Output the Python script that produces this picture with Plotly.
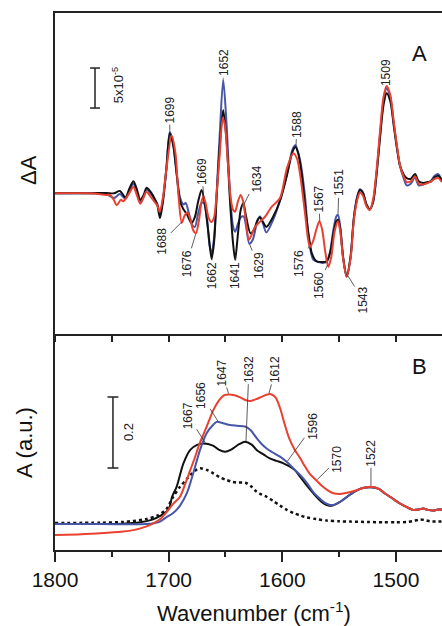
import numpy as np
import plotly.graph_objects as go

# ---------------- data: panel A (difference spectra, units of 1e-5) ----------------
WN_A_BLACK = [1800, 1770, 1755, 1748, 1743, 1738, 1734.5, 1731, 1728, 1725, 1722, 1719.4, 1716, 1713, 1710,
              1707.6, 1705, 1702, 1699, 1696, 1693, 1690, 1687, 1684, 1680, 1677, 1674, 1671, 1668, 1665,
              1662.2, 1660, 1657.8, 1655, 1652, 1649, 1646, 1643.5, 1641.5, 1639, 1636.5, 1634.3, 1632, 1628,
              1625, 1622, 1619.6, 1617, 1614, 1608, 1602, 1596.2, 1591, 1588.5, 1586, 1583, 1580, 1577, 1574,
              1570, 1565, 1561, 1558, 1555, 1552.5, 1551, 1549, 1546.5, 1543.4, 1540, 1537, 1534, 1531.7, 1529,
              1526, 1523, 1520, 1517, 1514, 1511, 1508.2, 1505, 1502, 1499, 1496.5, 1493, 1490.6, 1487, 1483.3,
              1480, 1476, 1472, 1469, 1466, 1462.8, 1459.5]
DA_BLACK = [0, 0, 0.05, 0, 0.3, -0.5, 0.6, 1.5, 0.5, -0.8, -0.2, 0.7, 0.2, -0.5, -1.5,
            -3.1, -1.0, 3.0, 7.5, 6.0, 2.5, -1.0, -2.0, -2.6, -3.7, -3.0, -1.0, 0.4, -1.5, -5.0,
            -8.2, -6.0, -0.5, 6.0, 10.4, 6.5, -1.0, -6.0, -8.3, -5.0, -2.0, -1.25, -2.8, -5.0,
            -4.6, -3.4, -3.0, -3.6, -4.2, -2.9, -0.9, 2.1, 5.2, 5.8, 5.0, 2.5, -1.5, -5.0, -7.5,
            -8.5, -8.6, -8.5, -7.5, -5.0, -3.5, -3.3, -4.5, -8.0, -10.4, -8.0, -3.0, -0.5, 0.4, 0.0,
            -1.4, -2.0, -1.0, 2.5, 7.0, 11.0, 12.5, 11.5, 8.5, 5.5, 3.5, 2.3, 1.9, 1.8, 2.4,
            1.5, 1.3, 1.4, 1.5, 2.0, 2.2, 1.6]

WN_A_BLUE = [1800, 1770, 1755, 1748, 1743, 1738, 1734.5, 1731, 1728, 1725, 1722, 1719.4, 1716, 1713, 1710,
             1707.6, 1705, 1702, 1699, 1696, 1693, 1690, 1687, 1685, 1682, 1679, 1676.9, 1674, 1671, 1669,
             1666, 1664, 1662.2, 1660, 1657.8, 1655, 1652, 1649, 1646, 1643.5, 1641.5, 1639, 1636.5, 1634,
             1632, 1629, 1626, 1622, 1619.6, 1617, 1614, 1608, 1602, 1596.2, 1591, 1588.5, 1584.5, 1580, 1577,
             1572.8, 1568, 1565, 1561, 1558, 1555, 1552.5, 1551, 1549, 1546.5, 1543.4, 1540, 1537, 1534,
             1531.7, 1529, 1526, 1523, 1520, 1517, 1514, 1511, 1508.2, 1505, 1502, 1499, 1496.5, 1493, 1490.6,
             1487, 1483.3, 1480, 1476, 1472, 1469, 1466, 1462.8, 1459.5]
DA_BLUE = [0, 0, -0.1, -0.6, -0.1, -0.7, 0.3, 1.2, 0.2, -1.0, -0.4, 0.5, 0.0, -0.6, -1.3,
           -2.6, -0.8, 3.2, 7.7, 6.2, 2.5, -0.5, -1.4, -1.2, -2.6, -4.0, -4.2, -2.5, -1.2, -1.2,
           -3.5, -6.5, -7.5, -5.5, 0.0, 7.5, 14.2, 8.5, 0.0, -4.0, -4.8, -3.8, -3.0, -2.9,
           -4.0, -6.3, -5.8, -3.5, -2.9, -3.8, -4.9, -3.3, -0.9, 2.2, 5.5, 6.0, 4.2, -0.4, -5.4,
           -8.3, -8.6, -8.7, -8.6, -7.3, -4.5, -2.9, -2.7, -4.2, -8.0, -10.4, -8.0, -3.0, -0.3,
           0.5, 0.1, -1.4, -2.0, -1.0, 2.6, 7.3, 11.5, 13.1, 12.0, 8.8, 5.6, 3.4, 1.8, 1.0,
           1.2, 2.0, 1.0, 1.1, 1.3, 1.6, 2.2, 2.4, 1.5]

WN_A_RED = [1800, 1770, 1755, 1751.6, 1748, 1745.7, 1742, 1740, 1736, 1731, 1728, 1725, 1722, 1719.6, 1716,
            1712.3, 1710, 1707.9, 1705, 1702, 1697.4, 1694, 1691.5, 1688.5, 1686, 1683.6, 1681, 1678.5, 1676,
            1673.5, 1671, 1669.5, 1667.5, 1665, 1662.5, 1660, 1657.8, 1655, 1652.5, 1650.5, 1648, 1645.5,
            1643.5, 1641.6, 1639, 1636.7, 1634.5, 1632, 1629.5, 1627, 1624, 1620, 1615, 1609.4, 1602, 1596,
            1590.3, 1587, 1584.5, 1580, 1577.5, 1575.7, 1573, 1570, 1567.4, 1565, 1562, 1559.5, 1557, 1554,
            1551, 1549, 1546.5, 1543.4, 1540, 1537, 1534, 1531.7, 1529, 1526, 1523, 1520, 1517, 1514, 1511,
            1508.2, 1505, 1502, 1499, 1496.5, 1493, 1490.6, 1487, 1483.3, 1480, 1476, 1472, 1469, 1466,
            1462.8, 1459.5]
DA_RED = [0, 0, -0.2, -0.2, -0.9, -1.5, -0.8, -1.0, -0.3, 0.8, -0.2, -1.3, -0.5, 0.2, -0.4,
          -1.1, -1.5, -2.3, -0.5, 3.0, 7.2, 5.0, 0.0, -3.7, -2.8, -2.4, -3.2, -4.6, -5.0,
          -3.5, -1.0, -0.4, -1.2, -3.0, -3.6, -3.0, 0.0, 5.0, 9.4, 8.5, 4.0, -0.5,
          -2.0, -2.3, -1.0, -0.2, -1.0, -3.5, -5.8, -5.2, -4.2, -3.6, -2.9, -1.7, -0.6, 3.1,
          5.0, 4.3, 2.5, -2.5, -5.6, -6.7, -6.0, -4.5, -3.5, -4.5, -7.5, -9.2, -8.0, -4.8,
          -3.5, -4.8, -8.2, -10.4, -8.2, -3.3, -0.8, 0.1, -0.3, -1.6, -2.1, -0.7, 3.0, 7.8, 12.0,
          13.4, 12.3, 9.0, 5.8, 3.5, 2.0, 1.4, 1.5, 2.1, 1.2, 1.1, 1.3, 1.5, 1.8,
          1.9, 1.4]

# ---------------- data: panel B (absorbance, a.u.) ----------------
WN_B_BLACK = [1800, 1760, 1740, 1725, 1715, 1707, 1700, 1697, 1693, 1687, 1681, 1675, 1669.5, 1661, 1656,
              1650.4, 1645, 1638, 1632.8, 1627, 1622.6, 1616, 1611, 1605, 1599, 1594, 1589, 1584.5, 1578,
              1570, 1564, 1559.5, 1555, 1548, 1543, 1536, 1530, 1522, 1515, 1510, 1503, 1496.5, 1490, 1485,
              1480, 1476, 1472, 1467, 1463, 1459.5]
A_BLACK = [0.073, 0.073, 0.074, 0.078, 0.085, 0.097, 0.115, 0.15, 0.178, 0.244, 0.282, 0.296, 0.300, 0.294, 0.283,
           0.277, 0.283, 0.298, 0.305, 0.297, 0.282, 0.268, 0.258, 0.251, 0.244, 0.236, 0.225, 0.207, 0.18,
           0.15, 0.132, 0.125, 0.126, 0.138, 0.150, 0.165, 0.174, 0.177, 0.172, 0.160, 0.145, 0.131, 0.12, 0.113,
           0.114, 0.117, 0.113, 0.111, 0.114, 0.114]

WN_B_BLUE = [1800, 1760, 1720, 1712, 1707.6, 1702, 1696, 1690, 1684, 1678.3, 1672.4, 1666.6, 1661, 1657.8,
             1652, 1646, 1640, 1632.8, 1628, 1622.6, 1618, 1613.8, 1608, 1602, 1596, 1590.3, 1584.5, 1578.6,
             1572, 1567, 1562, 1558, 1555, 1548, 1543, 1536, 1530, 1522, 1515, 1510, 1503, 1496.5, 1490,
             1485, 1480, 1476, 1472, 1467, 1463, 1459.5]
A_BLUE = [0.073, 0.073, 0.073, 0.076, 0.080, 0.092, 0.104, 0.125, 0.160, 0.217, 0.282, 0.329, 0.352, 0.361,
          0.357, 0.352, 0.350, 0.348, 0.338, 0.315, 0.298, 0.286, 0.274, 0.263, 0.248, 0.230, 0.212, 0.190,
          0.16, 0.145, 0.132, 0.127, 0.127, 0.138, 0.150, 0.165, 0.174, 0.177, 0.172, 0.160, 0.145, 0.131, 0.12,
          0.113, 0.114, 0.117, 0.113, 0.111, 0.114, 0.114]

WN_B_RED = [1800, 1780, 1760, 1740, 1731, 1720, 1713.5, 1707, 1702, 1696, 1690, 1685, 1681, 1677, 1673,
            1669.5, 1665, 1660.7, 1656, 1651, 1647, 1642, 1637, 1632, 1628, 1623, 1618, 1613, 1610, 1606,
            1602, 1598, 1594, 1589, 1584.5, 1580, 1576, 1570, 1565, 1560, 1555, 1549, 1543, 1537, 1531.7,
            1526, 1522, 1515, 1510, 1503, 1496.5, 1490, 1485, 1480, 1476, 1472, 1467, 1463, 1459.5]
A_RED = [0.042, 0.044, 0.047, 0.052, 0.056, 0.066, 0.075, 0.088, 0.106, 0.13, 0.150, 0.19, 0.225, 0.26, 0.298,
         0.325, 0.36, 0.394, 0.42, 0.436, 0.438, 0.436, 0.43, 0.422, 0.42, 0.425, 0.432, 0.438, 0.439, 0.43,
         0.40, 0.355, 0.315, 0.282, 0.26, 0.235, 0.215, 0.196, 0.18, 0.168, 0.16, 0.158, 0.161, 0.166, 0.172,
         0.177, 0.178, 0.172, 0.160, 0.145, 0.131, 0.12, 0.113, 0.114, 0.117, 0.113, 0.111, 0.114, 0.114]

WN_B_DOT = [1800, 1760, 1740, 1720, 1710, 1702, 1696, 1690, 1684, 1681, 1676, 1672.4, 1666, 1660.7, 1655,
            1649, 1644, 1640, 1635, 1631.4, 1627, 1622.6, 1618, 1613.8, 1608, 1602, 1596, 1590, 1584, 1578.6,
            1570, 1561, 1550, 1540, 1525, 1511, 1500, 1490, 1484, 1479, 1474, 1470, 1465, 1459.5]
A_DOT = [0.076, 0.077, 0.079, 0.087, 0.097, 0.115, 0.15, 0.178, 0.2, 0.211, 0.225, 0.23, 0.225, 0.216, 0.205,
         0.197, 0.192, 0.19, 0.19, 0.188, 0.178, 0.164, 0.156, 0.15, 0.138, 0.125, 0.113, 0.104, 0.097, 0.092,
         0.087, 0.083, 0.081, 0.08, 0.079, 0.078, 0.078, 0.079, 0.082, 0.086, 0.084, 0.081, 0.080, 0.080]

# peak labels: (label, series, x-offset px, y-offset px)
PEAKS_A = [("1699", "blue", 0, -22), ("1652", "blue", 0, -17), ("1669", "black", -2, -29),
           ("1634", "black", 13, -26), ("1588", "blue", 1, -23), ("1567", "red", -1, -24),
           ("1551", "blue", 1, -32), ("1509", "red", 1, -17),
           ("1688", "red", -20, 20), ("1676", "red", -9, 30), ("1662", "black", 0, 18),
           ("1641", "black", 0, 21), ("1629", "blue", 9, 22), ("1576", "red", -10, 18),
           ("1560", "red", -9, 21), ("1543", "red", 16, 26)]
PEAKS_B = [("1667", "black", -18, -28), ("1656", "blue", -17, -27), ("1647", "red", -7, -22),
           ("1632", "black", 3, -73), ("1612", "red", 7, -25), ("1596", "blue", 26, -36),
           ("1570", "red", 21, -21), ("1522", "red", 0, -34)]

SCALE_A = 5      # 5x10^-5
SCALE_B = 0.2

X_RANGE = [1800, 1459.5]
YA_RANGE = [-17.59, 22.54]
YB_RANGE = [0, 0.6085]

BLACK = "#111111"
BLUE = "#4656a8"
RED = "#e8412f"

FONT = "Liberation Sans, Arial, sans-serif"

fig = go.Figure()

SER_A = {"black": (WN_A_BLACK, DA_BLACK), "blue": (WN_A_BLUE, DA_BLUE), "red": (WN_A_RED, DA_RED)}
SER_B = {"black": (WN_B_BLACK, A_BLACK), "blue": (WN_B_BLUE, A_BLUE), "red": (WN_B_RED, A_RED)}
COL = {"black": BLACK, "blue": BLUE, "red": RED}

for name in ["blue", "black", "red"]:
    wn, v = SER_A[name]
    fig.add_trace(go.Scatter(x=wn, y=v, mode="lines", xaxis="x", yaxis="y",
                             line=dict(color=COL[name], width=2, shape="spline", smoothing=0.8),
                             showlegend=False, hoverinfo="skip"))

fig.add_trace(go.Scatter(x=WN_B_DOT, y=A_DOT, mode="lines", xaxis="x2", yaxis="y2",
                         line=dict(color=BLACK, width=2.5, dash="dot", shape="spline", smoothing=0.8),
                         showlegend=False, hoverinfo="skip"))
for name in ["black", "blue", "red"]:
    wn, v = SER_B[name]
    fig.add_trace(go.Scatter(x=wn, y=v, mode="lines", xaxis="x2", yaxis="y2",
                             line=dict(color=COL[name], width=2, shape="spline", smoothing=0.8),
                             showlegend=False, hoverinfo="skip"))


def interp(series, x):
    wn, v = series
    return float(np.interp(x, wn[::-1], v[::-1]))


annotations = []
for lab, s, ax, ay in PEAKS_A:
    x = float(lab)
    annotations.append(dict(x=x, y=interp(SER_A[s], x), xref="x", yref="y", text=lab, textangle=-90,
                            showarrow=True, arrowhead=0, arrowwidth=0.8, arrowcolor="#333333",
                            ax=ax, ay=ay, standoff=1, font=dict(size=12, color="#222222", family=FONT)))
for lab, s, ax, ay in PEAKS_B:
    x = float(lab)
    annotations.append(dict(x=x, y=interp(SER_B[s], x), xref="x2", yref="y2", text=lab, textangle=-90,
                            showarrow=True, arrowhead=0, arrowwidth=0.8, arrowcolor="#333333",
                            ax=ax, ay=ay, standoff=1, font=dict(size=12, color="#222222", family=FONT)))

CM = dict(xanchor="center", yanchor="middle", showarrow=False)
# scale bar labels
annotations.append(dict(x=1744.6, y=13.5, xref="x", yref="y", text="5x10<sup>-5</sup>", textangle=-90,
                        font=dict(size=13, color="#222222", family=FONT), **CM))
annotations.append(dict(x=1735.8, y=0.332, xref="x2", yref="y2", text="0.2", textangle=-90,
                        font=dict(size=13, color="#222222", family=FONT), **CM))
# panel letters
annotations.append(dict(x=0.943, y=0.9255, xref="paper", yref="paper", text="A",
                        font=dict(size=22, color="#111111", family=FONT), **CM))
annotations.append(dict(x=0.942, y=0.3408, xref="paper", yref="paper", text="B",
                        font=dict(size=22, color="#111111", family=FONT), **CM))
# axis titles
annotations.append(dict(x=-0.0698, y=0.7076, xref="paper", yref="paper", text="ΔA", textangle=-90,
                        font=dict(size=22, color="#111111", family=FONT), **CM))
annotations.append(dict(x=-0.0775, y=0.1993, xref="paper", yref="paper", text="A (a.u.)", textangle=-90,
                        font=dict(size=22, color="#111111", family=FONT), **CM))
annotations.append(dict(x=0.5155, y=-0.1155, xref="paper", yref="paper", text="Wavenumber (cm<sup>-1</sup>)",
                        font=dict(size=22, color="#111111", family=FONT), **CM))

# scale bars
shapes = []
xa, y0 = 1764.8, 10.66
shapes.append(dict(type="line", xref="x", yref="y", x0=xa, x1=xa, y0=y0, y1=y0 + SCALE_A,
                   line=dict(color="#222222", width=1.5)))
for yy in (y0, y0 + SCALE_A):
    shapes.append(dict(type="line", xref="x", yref="y", x0=xa - 4.4, x1=xa + 4.4, y0=yy, y1=yy,
                       line=dict(color="#222222", width=1.5)))
xb, yb0 = 1749.0, 0.231
shapes.append(dict(type="line", xref="x2", yref="y2", x0=xb, x1=xb, y0=yb0, y1=yb0 + SCALE_B,
                   line=dict(color="#222222", width=1.5)))
for yy in (yb0, yb0 + SCALE_B):
    shapes.append(dict(type="line", xref="x2", yref="y2", x0=xb - 4.8, x1=xb + 4.8, y0=yy, y1=yy,
                       line=dict(color="#222222", width=1.5)))

SPLIT = 216 / 537

fig.update_layout(
    width=442, height=626,
    margin=dict(l=55, r=0, t=13, b=76, autoexpand=False),
    paper_bgcolor="white", plot_bgcolor="white",
    showlegend=False,
    font=dict(family=FONT, color="#111111"),
    xaxis=dict(domain=[0, 1], anchor="y", range=X_RANGE, showticklabels=False, ticks="outside",
               ticklen=6, tickwidth=1.5, tickcolor="#222222", tick0=1800, dtick=50, showgrid=False,
               zeroline=False, showline=True, linecolor="#222222", linewidth=1.5, mirror=True),
    xaxis3=dict(overlaying="x", anchor="y", range=X_RANGE, showticklabels=False, ticks="inside",
                ticklen=6, tickwidth=1.5, tickcolor="#222222", tick0=1800, dtick=50, showgrid=False,
                zeroline=False, showline=False),
    yaxis=dict(domain=[SPLIT, 1], anchor="x", range=YA_RANGE, showticklabels=False, ticks="",
               showgrid=False, zeroline=False, showline=True, linecolor="#222222", linewidth=1.5),
    xaxis2=dict(domain=[0, 1], anchor="y2", range=X_RANGE, ticks="outside", ticklen=10, tickwidth=1.5,
                tickcolor="#222222", tick0=1800, dtick=100, showgrid=False, zeroline=False, showline=True,
                linecolor="#222222", linewidth=1.5,
                tickfont=dict(size=21, color="#111111", family=FONT),
                minor=dict(ticks="outside", ticklen=5, tickwidth=1.5, tickcolor="#222222", dtick=50,
                           tick0=1800, showgrid=False)),
    yaxis2=dict(domain=[0, SPLIT], anchor="x2", range=YB_RANGE, showticklabels=False, ticks="",
                showgrid=False, zeroline=False, showline=True, linecolor="#222222", linewidth=1.5),
    annotations=annotations,
    shapes=shapes,
)

fig.write_html("out.html", config={"displayModeBar": False})

# remove the default page margin so the 442x626 figure fills the window exactly
with open("out.html", "r", encoding="utf-8") as f:
    html = f.read()
html = html.replace("<head>", "<head><style>html,body{margin:0;padding:0;overflow:hidden;}</style>", 1)
with open("out.html", "w", encoding="utf-8") as f:
    f.write(html)
